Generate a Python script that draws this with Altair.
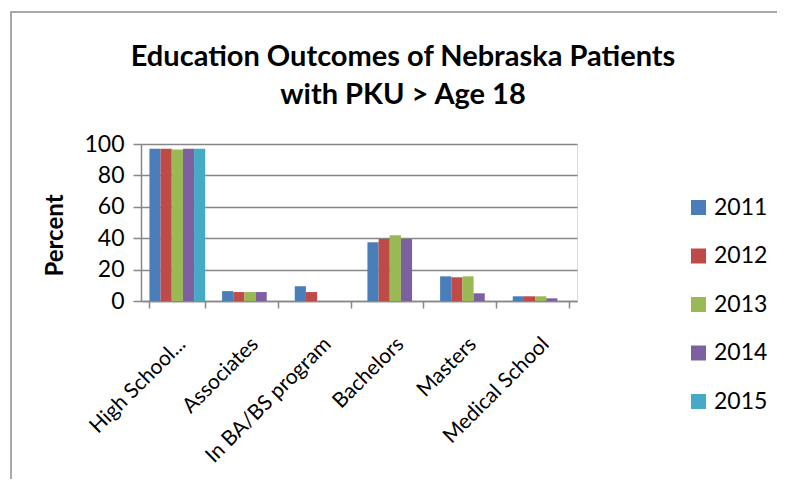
import altair as alt
import pandas as pd

categories = ["High School...", "Associates", "In BA/BS program", "Bachelors", "Masters", "Medical School"]
years = ["2011", "2012", "2013", "2014", "2015"]
v2011 = [97, 6.3, 9.4, 37.4, 15.7, 3.0]
v2012 = [97, 5.7, 5.7, 39.5, 15.1, 3.0]
v2013 = [96.5, 5.7, None, 41.8, 15.7, 3.0]
v2014 = [97, 5.7, None, 39.5, 4.9, 1.7]
v2015 = [97, None, None, None, None, None]
colors = ["#4a7ebb", "#be4b48", "#98b954", "#7d60a0", "#46aac5"]

rows = []
for yr, vals in zip(years, [v2011, v2012, v2013, v2014, v2015]):
    for c, v in zip(categories, vals):
        if v is not None:
            rows.append({"Category": c, "Year": yr, "Percent": v})
df = pd.DataFrame(rows)

FONT = "Lato"
GRID = "#878787"

bars = alt.Chart(df).mark_bar().encode(
    x=alt.X("Category:N", sort=categories,
            scale=alt.Scale(paddingInner=0.232, paddingOuter=0.116),
            axis=alt.Axis(title=None, labelAngle=-45, labelAlign="right", labelBaseline="top",
                          labelFontSize=21, labelFont=FONT, labelColor="black",
                          tickBand="extent", tickSize=7, tickColor=GRID, tickWidth=1.5,
                          domainColor=GRID, domainWidth=1.5, labelPadding=25, labelOffset=-3,
                          grid=False, labelOverlap=False)),
    xOffset=alt.XOffset("Year:N", scale=alt.Scale(domain=years, paddingInner=0, paddingOuter=0)),
    y=alt.Y("Percent:Q", scale=alt.Scale(domain=[0, 100]),
            axis=alt.Axis(values=[0, 20, 40, 60, 80, 100], title="Percent",
                          titleFontSize=24, titleFont=FONT, titleFontWeight="bold", titleColor="black",
                          titleX=-74, titleY=91, titleAngle=-90, titleAlign="center",
                          labelFontSize=23, labelFont=FONT, labelColor="black", labelPadding=9,
                          tickSize=8, tickColor=GRID, tickWidth=1.5, domainColor=GRID, domainWidth=1.5,
                          gridColor=GRID, gridWidth=1.5)),
    color=alt.Color("Year:N", scale=alt.Scale(domain=years, range=colors),
                    legend=alt.Legend(title=None, orient="none", legendX=546, legendY=52,
                                      symbolType="square", symbolSize=225, symbolStrokeWidth=0,
                                      labelFontSize=23, labelFont=FONT, labelColor="black",
                                      rowPadding=24.5, padding=0, labelOffset=4)),
)

frame = alt.Chart(pd.DataFrame({"f": [0]})).mark_rect(
    fill=None, stroke="#8c8c8c", strokeWidth=1.5
).encode(x=alt.value(-130), x2=alt.value(700), y=alt.value(-132), y2=alt.value(400))

chart = alt.layer(frame, bars).properties(
    width=436, height=157,
    title=alt.TitleParams(["Education Outcomes of Nebraska Patients", "with PKU >  Age 18"],
                          font=FONT, fontSize=29, fontWeight="bold", color="black",
                          anchor="middle", dx=44, offset=-99, lineHeight=38),
    autosize="none",
    padding={"left": 133, "top": 136, "right": 200, "bottom": 178},
).configure_view(strokeOpacity=0).configure(background="white")

chart.save("out.html", embed_options={"renderer": "svg", "actions": False})
